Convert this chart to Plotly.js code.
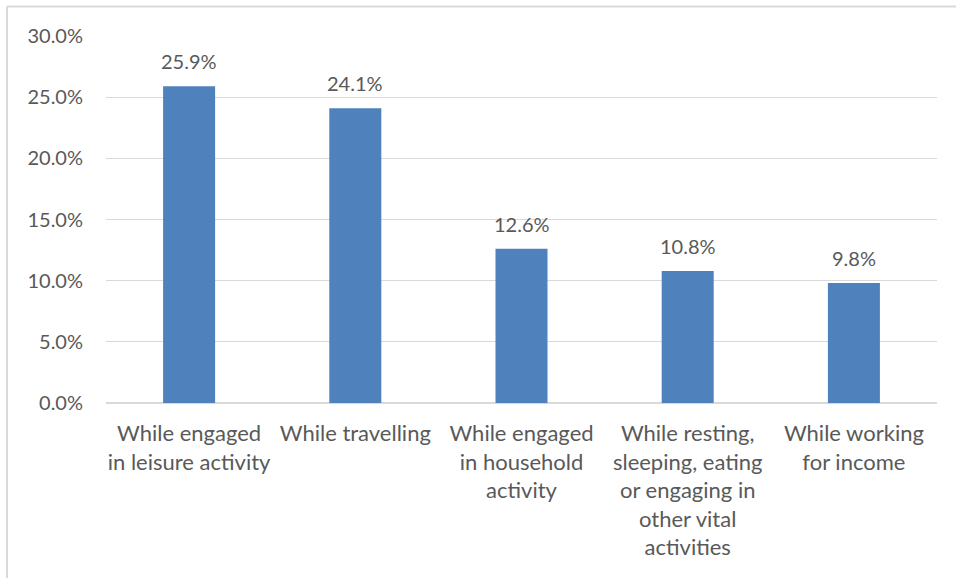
<!DOCTYPE html>
<html>
<head>
<meta charset="utf-8">
<script src="https://cdn.plot.ly/plotly-3.0.1.min.js"></script>
<style>html,body{margin:0;padding:0;background:#fff;} #chart{width:956px;height:578px;}</style>
</head>
<body>
<div id="chart"></div>
<script>
const categories = [
  "While engaged<br>in leisure activity",
  "While travelling",
  "While engaged<br>in household<br>activity",
  "While resting,<br>sleeping, eating<br>or engaging in<br>other vital<br>activities",
  "While working<br>for income"
];
const values = [25.9, 24.1, 12.6, 10.8, 9.8];
const yTicks = [0, 5, 10, 15, 20, 25, 30];

const textColor = "#595959";
const font = "Lato, 'Open Sans', sans-serif";

const trace = {
  type: "bar",
  x: categories,
  y: values,
  marker: {color: "#4F81BD"},
  hoverinfo: "skip"
};

const annotations = categories.map((c, i) => ({
  x: c, y: values[i], xref: "x", yref: "y",
  text: values[i].toFixed(1) + "%",
  showarrow: false, yanchor: "bottom", yshift: 11,
  font: {family: font, size: 20, color: textColor}
}));

const L = 106, R = 937, T = 35.5, B = 403;
const pxToPaperX = px => (px - L) / (R - L);
const pxToPaperY = py => (B - py) / (B - T);

const layout = {
  width: 956, height: 578,
  margin: {l: L, r: 956 - R, t: T, b: 578 - B, pad: 0},
  paper_bgcolor: "#fff", plot_bgcolor: "#fff",
  bargap: 0.687,
  showlegend: false,
  xaxis: {
    type: "category",
    showgrid: false, zeroline: false, showline: false, ticks: "",
    tickangle: 0,
    ticklabelstandoff: 15,
    tickfont: {family: font, size: 22, color: textColor}
  },
  yaxis: {
    range: [0, 30],
    tickvals: yTicks,
    ticktext: yTicks.map(v => v.toFixed(1) + "%"),
    showgrid: true, gridcolor: "#D9D9D9", gridwidth: 1.3,
    zeroline: true, zerolinecolor: "#D9D9D9", zerolinewidth: 1.3,
    showline: false, ticks: "",
    ticklabelstandoff: 22,
    tickfont: {family: font, size: 20, color: textColor}
  },
  annotations: annotations,
  shapes: [
    {type: "line", xref: "paper", yref: "paper", x0: pxToPaperX(7), x1: pxToPaperX(7), y0: pxToPaperY(600), y1: pxToPaperY(6), line: {color: "#D9D9D9", width: 2}},
    {type: "line", xref: "paper", yref: "paper", x0: pxToPaperX(7), x1: pxToPaperX(980), y0: pxToPaperY(6), y1: pxToPaperY(6), line: {color: "#D9D9D9", width: 2}}
  ]
};

Plotly.newPlot("chart", [trace], layout, {displayModeBar: false, staticPlot: true});
</script>
</body>
</html>
